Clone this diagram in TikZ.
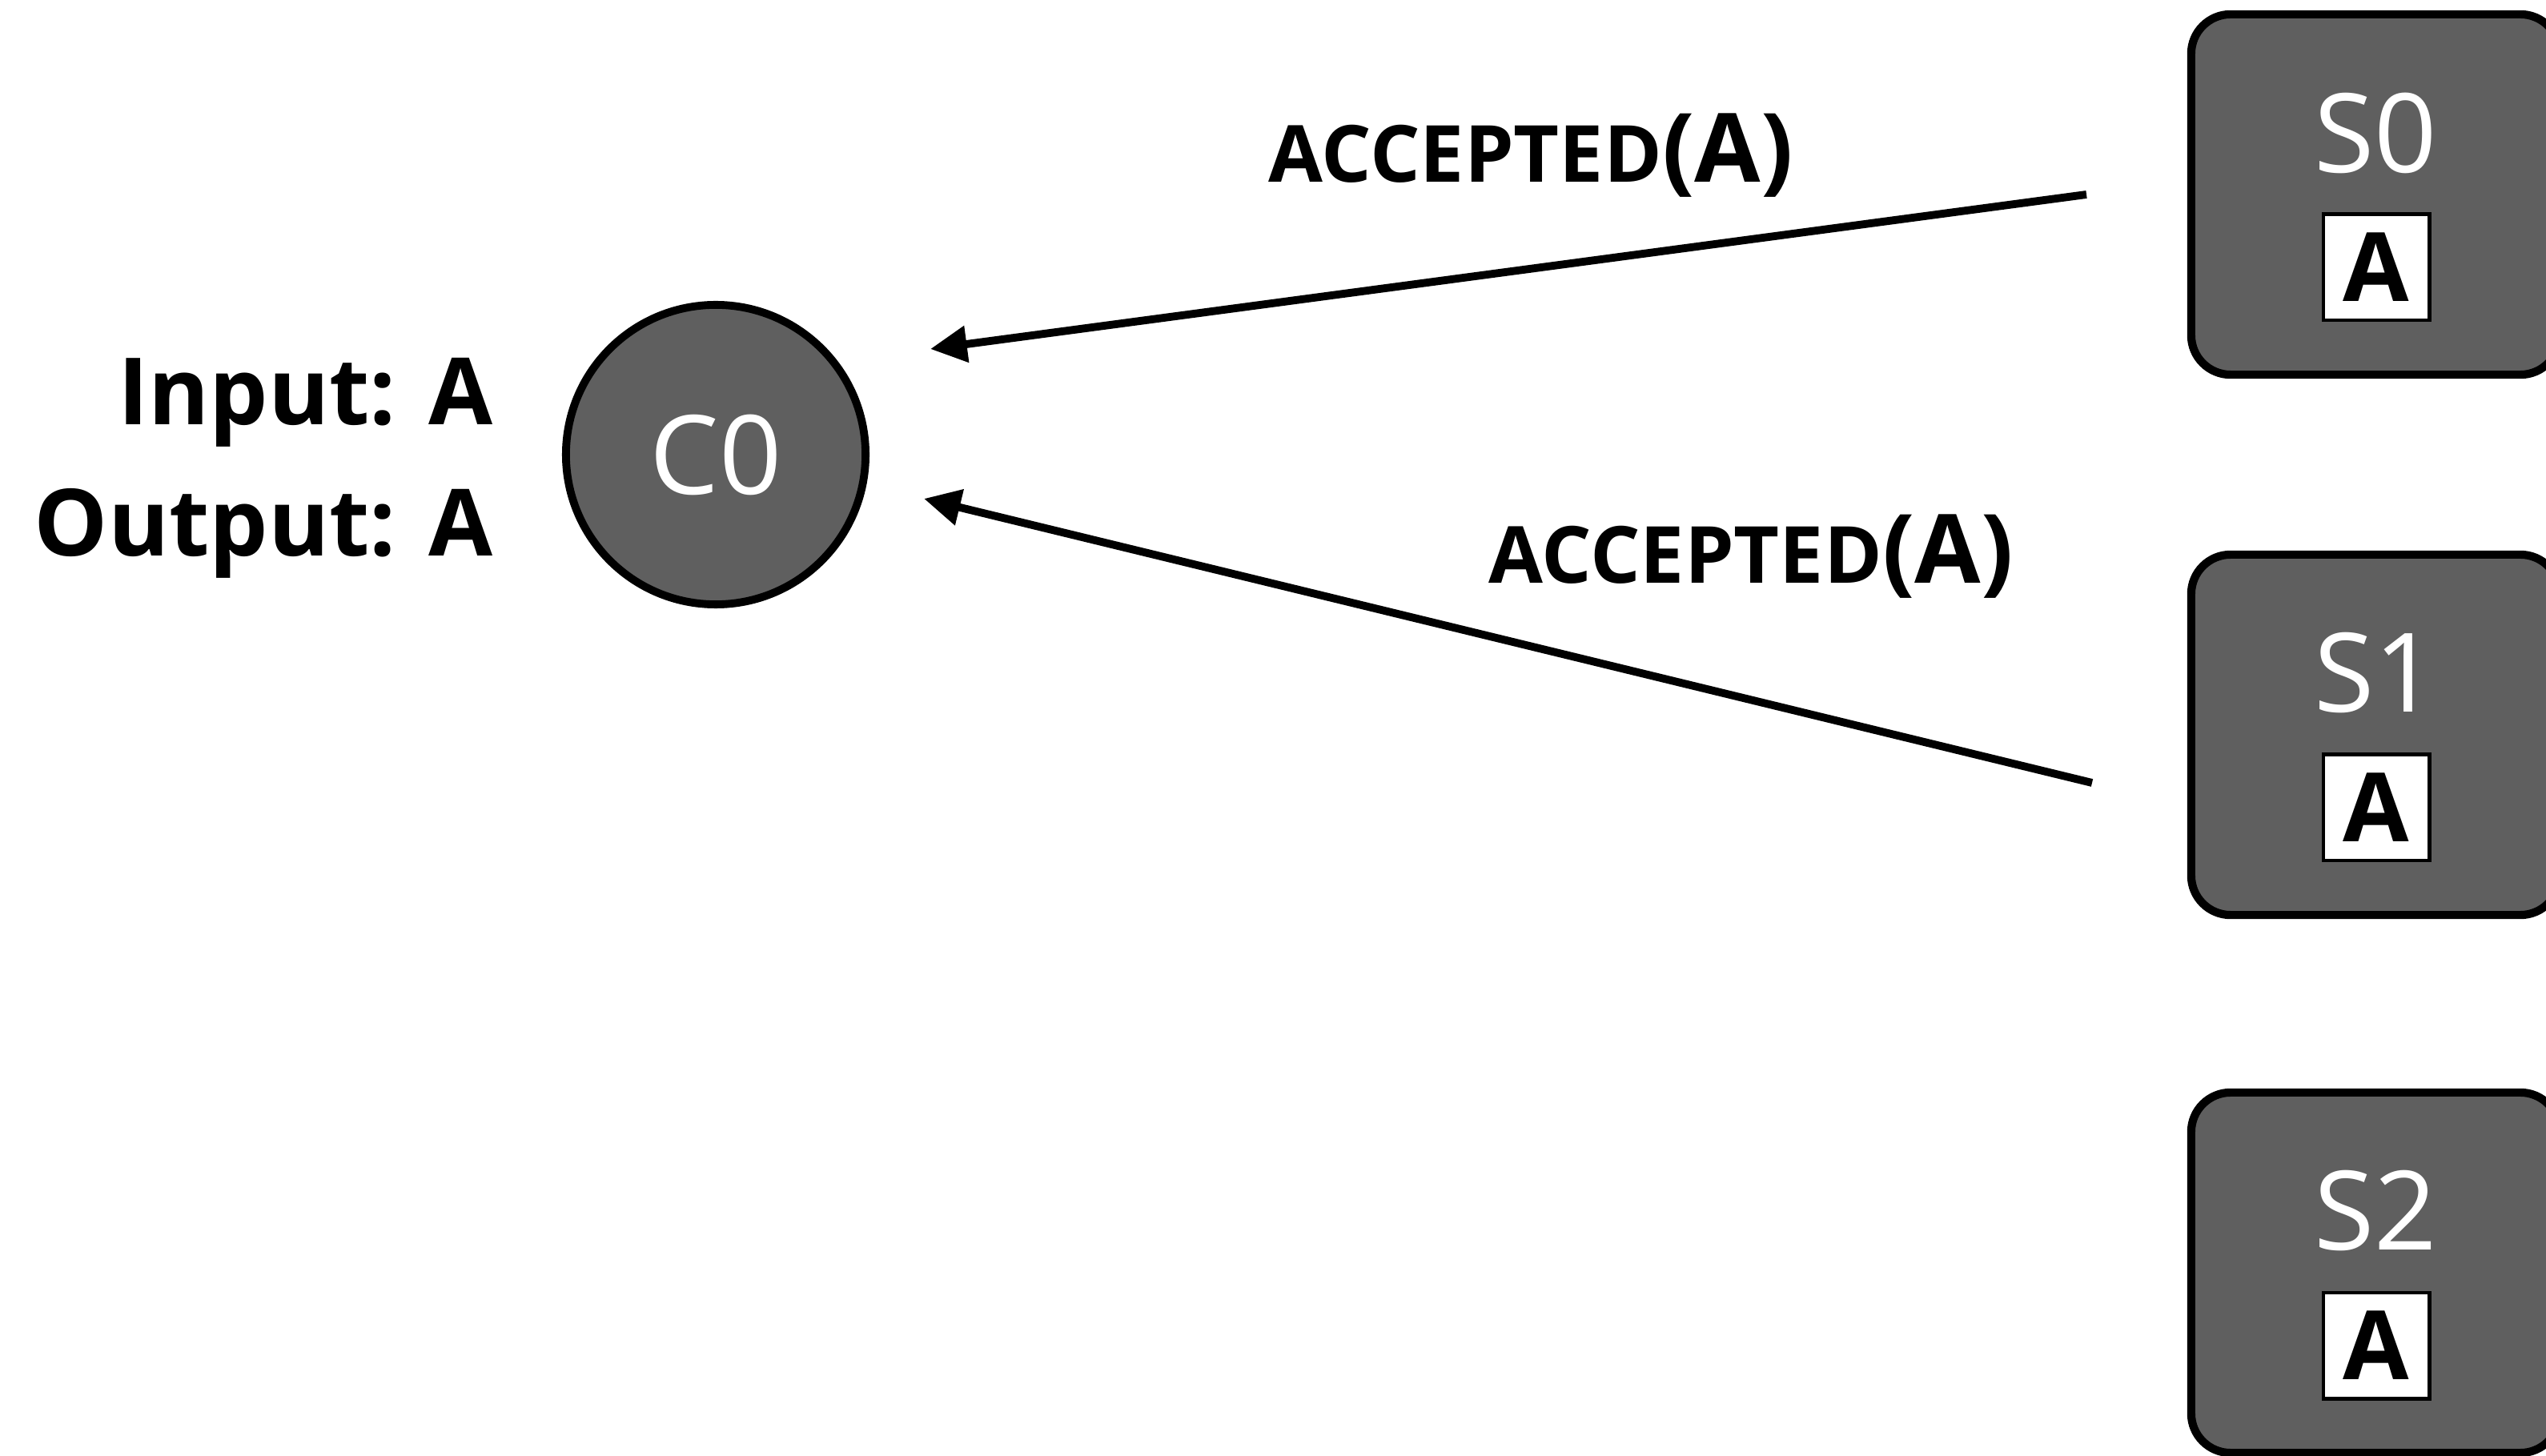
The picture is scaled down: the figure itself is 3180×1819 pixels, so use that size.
\documentclass[tikz,border=0pt]{standalone}
\usepackage{fontspec}
\setmainfont{Open Sans}
\usetikzlibrary{arrows.meta}

\definecolor{nodegray}{RGB}{95,95,95}
\newcommand{\acclabel}{{\fontsize{28pt}{30pt}\selectfont ACCEPTED}{\fontsize{34pt}{36pt}\selectfont(A)}}

\begin{document}
\begin{tikzpicture}[x=0.01cm,y=-0.01cm,
        server/.style={draw=black,line width=2.9pt,fill=nodegray,rounded corners=14pt,
            minimum width=4.6cm,minimum height=4.5cm},
        client/.style={circle,draw=black,line width=2.8pt,fill=nodegray,minimum size=3.74cm,
            inner sep=0pt,text=white,font=\fontsize{39pt}{40pt}\selectfont},
        srvname/.style={inner sep=0pt,text=white,font=\fontsize{39pt}{40pt}\selectfont},
        value/.style={draw=black,line width=1.4pt,fill=white,minimum size=1.32cm,inner sep=0pt,
            font=\fontsize{34pt}{36pt}\selectfont\bfseries},
        side/.style={inner sep=0pt,font=\fontsize{33pt}{40pt}\selectfont\bfseries},
        msglbl/.style={inner sep=0pt,font=\bfseries},
        msg/.style={line width=2.8pt,-{Triangle[length=13pt,width=12.5pt]}}]
    \useasboundingbox (0,0) rectangle (3180,1819);
    \clip (0,0) rectangle (3180,1819);

    % Client with its input and output
    \node[client] (c0) at (894,568) {C0};
    \node[side,anchor=base east] (inlbl) at (616,531) {Input: A};
    \node[side,anchor=base east] (outlbl) at (616,695) {Output: A};

    % Servers
    \foreach \i/\y in {0/243,1/918,2/1590} {
        \node[server] (s\i) at (2967,\y) {};
        \node[srvname] (s\i name) at (2967,\y-77) {S\i};
        \node[value] (s\i val) at (2968,\y+91) {A};
    }

    % Messages in flight
    \coordinate (m0from) at (2606,243);
    \coordinate (m0to) at (1162,436);
    \coordinate (m1from) at (2613,978);
    \coordinate (m1to) at (1154,623);
    \draw[msg] (m0from) -- (m0to);
    \draw[msg] (m1from) -- (m1to);
    \node[msglbl,anchor=base] (acc0) at (1912,228) {\acclabel};
    \node[msglbl,anchor=base] (acc1) at (2187,729) {\acclabel};
\end{tikzpicture}
\end{document}
